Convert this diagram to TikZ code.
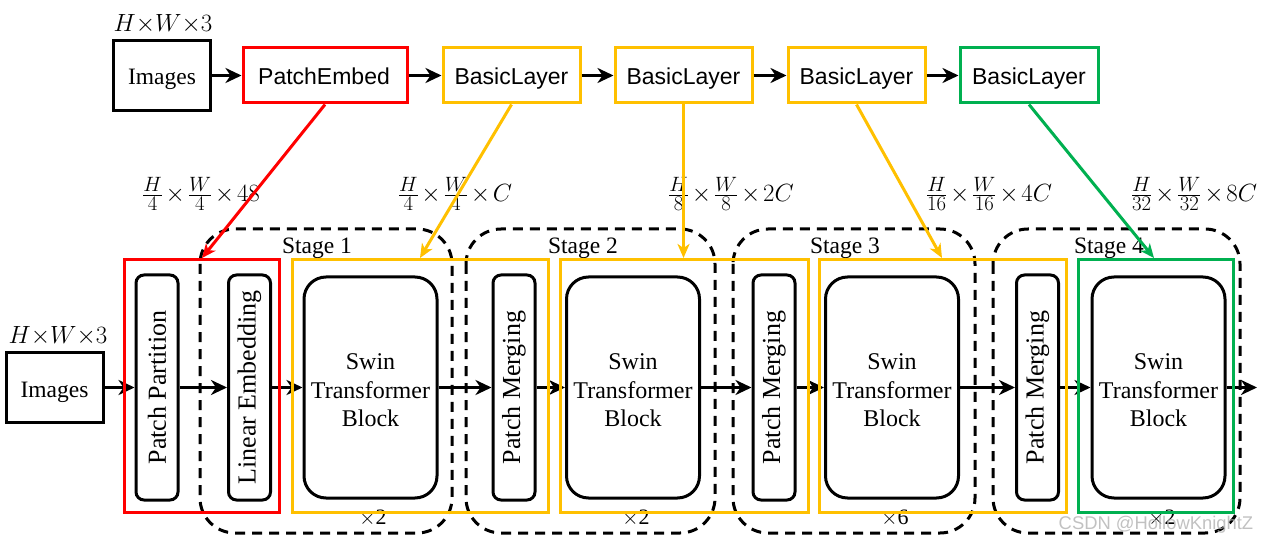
\documentclass[tikz,border=0pt]{standalone}
\usepackage[no-math]{fontspec}
\setmainfont{Liberation Serif}
\newfontfamily\sansf{Liberation Sans}
\DeclareMathSizes{25}{24.88}{20.74}{17.28}
\newcommand{\tm}{\mkern2mu{\times}\mkern2mu}
\usetikzlibrary{arrows.meta}
\definecolor{myred}{HTML}{FF0000}
\definecolor{myorange}{HTML}{FFC000}
\definecolor{mygreen}{HTML}{00B050}
\begin{document}
\begin{tikzpicture}[x=1pt,y=-1pt,
  blk/.style={draw=black, line width=3pt, inner sep=0pt, font=\fontsize{23.5}{28}\selectfont},
  topbox/.style={draw, line width=3pt, inner sep=0pt, minimum height=55pt},
  toptxt/.style={inner sep=0pt, font=\sansf\fontsize{23}{27}\selectfont},
  thin/.style={draw=black, line width=3pt, inner sep=0pt, rounded corners=8pt, minimum width=42pt, minimum height=225pt},
  swin/.style={draw=black, line width=3pt, inner sep=0pt, rounded corners=22pt, minimum width=133pt, minimum height=221pt},
  swintxt/.style={inner sep=0pt, align=center, font=\fontsize{24}{28.5}\selectfont},
  vlabel/.style={rotate=90, inner sep=0pt, font=\fontsize{26}{30}\selectfont},
  frame/.style={draw, line width=3pt, inner sep=0pt, minimum height=252pt},
  stagebox/.style={draw=black, line width=3pt, dash pattern=on 10pt off 7pt, rounded corners=35pt},
  stagelbl/.style={anchor=base, inner sep=0pt, font=\fontsize{23.5}{28}\selectfont},
  dimlbl/.style={inner sep=0pt, font=\fontsize{25}{30}\selectfont},
  replbl/.style={inner sep=0pt, font=\fontsize{22}{26}\selectfont},
  arr/.style={line width=3pt, -{Stealth[length=16pt,width=15pt,inset=5pt]}},
  carr/.style={line width=3pt, -{Stealth[length=14pt,width=12pt,inset=4pt]}}
]
\useasboundingbox (0,0) rectangle (1269,545);

% ---------- top row ----------
\node[blk, minimum width=97pt, minimum height=70pt] (timg) at (162,75.5) {};
\node[inner sep=0pt, font=\fontsize{23.5}{28}\selectfont, anchor=base] (timgl) at (162,85) {Images};
\node[inner sep=0pt, font=\fontsize{25}{30}\selectfont] (tdim) at (163,24) {$H{\times}W{\times}3$};
\node[topbox, draw=myred, minimum width=164pt] (pe) at (325,75.5) {};
\node[toptxt, anchor=base] (pel) at (324,85) {PatchEmbed};
\node[topbox, draw=myorange, minimum width=137pt] (bl1) at (511.5,75.5) {};
\node[toptxt, anchor=base] (bl1l) at (511.5,85) {BasicLayer};
\node[topbox, draw=myorange, minimum width=137pt] (bl2) at (683.5,75.5) {};
\node[toptxt, anchor=base] (bl2l) at (683.5,85) {BasicLayer};
\node[topbox, draw=myorange, minimum width=137pt] (bl3) at (856.5,75.5) {};
\node[toptxt, anchor=base] (bl3l) at (856.5,85) {BasicLayer};
\node[topbox, draw=mygreen, minimum width=138pt] (bl4) at (1029,75.5) {};
\node[toptxt, anchor=base] (bl4l) at (1029,85) {BasicLayer};
\draw[arr] (timg.east) -- (pe.west);
\draw[arr] (pe.east) -- (bl1.west);
\draw[arr] (bl1.east) -- (bl2.west);
\draw[arr] (bl2.east) -- (bl3.west);
\draw[arr] (bl3.east) -- (bl4.west);

% ---------- stage dashed boxes ----------
\draw[stagebox] (200,229) rectangle (452,533);
\draw[stagebox] (466,229) rectangle (715,533);
\draw[stagebox] (733,229) rectangle (975,533);
\draw[stagebox] (993,229) rectangle (1240,533);
\node[stagelbl] (s1) at (317,254) {Stage 1};
\node[stagelbl] (s2) at (583,254) {Stage 2};
\node[stagelbl] (s3) at (845,254) {Stage 3};
\node[stagelbl] (s4) at (1109,254) {Stage 4};

% ---------- dimension labels ----------
\node[dimlbl] (d0) at (201,194) {$\frac{H}{4}\tm\frac{W}{4}\tm 48$};
\node[dimlbl] (d1) at (455,194) {$\frac{H}{4}\tm\frac{W}{4}\tm C$};
\node[dimlbl] (d2) at (731,194) {$\frac{H}{8}\tm\frac{W}{8}\tm 2C$};
\node[dimlbl] (d3) at (989,194) {$\frac{H}{16}\tm\frac{W}{16}\tm 4C$};
\node[dimlbl] (d4) at (1194,194) {$\frac{H}{32}\tm\frac{W}{32}\tm 8C$};

% ---------- bottom row ----------
\node[blk, minimum width=97pt, minimum height=70pt] (bimg) at (54.5,387.5) {};
\node[inner sep=0pt, font=\fontsize{23.5}{28}\selectfont, anchor=base] (bimgl) at (54.5,397) {Images};
\node[inner sep=0pt, font=\fontsize{25}{30}\selectfont] (bdim) at (58,336) {$H{\times}W{\times}3$};
\node[thin] (pp) at (157,387.5) {};
\node[vlabel] (ppl) at (pp.center) {Patch Partition};
\node[thin] (le) at (249.5,387.5) {};
\node[vlabel] (lel) at (le.center) {Linear Embedding};
\node[swin] (sw1) at (370.5,387.5) {};
\node[swintxt] (sw1l) at (370.5,390.5) {Swin\\Transformer\\Block};
\node[thin] (pm1) at (514,387.5) {};
\node[vlabel] (pm1l) at (pm1.center) {Patch Merging};
\node[swin] (sw2) at (633,387.5) {};
\node[swintxt] (sw2l) at (633,390.5) {Swin\\Transformer\\Block};
\node[thin] (pm2) at (774,387.5) {};
\node[vlabel] (pm2l) at (pm2.center) {Patch Merging};
\node[swin] (sw3) at (892,387.5) {};
\node[swintxt] (sw3l) at (892,390.5) {Swin\\Transformer\\Block};
\node[thin] (pm3) at (1037.5,387.5) {};
\node[vlabel] (pm3l) at (pm3.center) {Patch Merging};
\node[swin] (sw4) at (1158.5,387.5) {};
\node[swintxt] (sw4l) at (1158.5,390.5) {Swin\\Transformer\\Block};
\coordinate (out) at (1257,387.5);

\draw[arr] (bimg.east) -- (pp.west);
\draw[arr] (pp.east) -- (le.west);
\draw[arr] (le.east) -- (sw1.west);
\draw[arr] (sw1.east) -- (pm1.west);
\draw[arr] (pm1.east) -- (sw2.west);
\draw[arr] (sw2.east) -- (pm2.west);
\draw[arr] (pm2.east) -- (sw3.west);
\draw[arr] (sw3.east) -- (pm3.west);
\draw[arr] (pm3.east) -- (sw4.west);
\draw[arr] (sw4.east) -- (out);

\node[replbl] (r1) at (373,518) {$\times$2};
\node[replbl] (r2) at (636,518) {$\times$2};
\node[replbl] (r3) at (895,518) {$\times$6};
\node[replbl] (r4) at (1162,518) {$\times$2};

% ---------- coloured frames ----------
\node[frame, draw=myred, minimum width=155pt] (fr) at (201.5,386) {};
\node[frame, draw=myorange, minimum width=256pt] (fo1) at (420,386) {};
\node[frame, draw=myorange, minimum width=248pt] (fo2) at (684,386) {};
\node[frame, draw=myorange, minimum width=247pt] (fo3) at (942.5,386) {};
\node[frame, draw=mygreen, minimum width=155pt] (fg) at (1155.5,386) {};

\coordinate (er) at (202,258);
\coordinate (eo1) at (420,258);
\coordinate (eo2) at (683.5,258);
\coordinate (eo3) at (942,258);
\coordinate (eg) at (1154,258);
\draw[carr, myred] (pe.south) -- (er);
\draw[carr, myorange] (bl1.south) -- (eo1);
\draw[carr, myorange] (bl2.south) -- (eo2);
\draw[carr, myorange] (bl3.south) -- (eo3);
\draw[carr, mygreen] (bl4.south) -- (eg);

% watermark
\node[inner sep=0pt, text=gray!60, opacity=0.8, font=\sansf\fontsize{18.4}{22}\selectfont] (wm) at (1156,525) {CSDN @HollowKnightZ};
\end{tikzpicture}
\end{document}
